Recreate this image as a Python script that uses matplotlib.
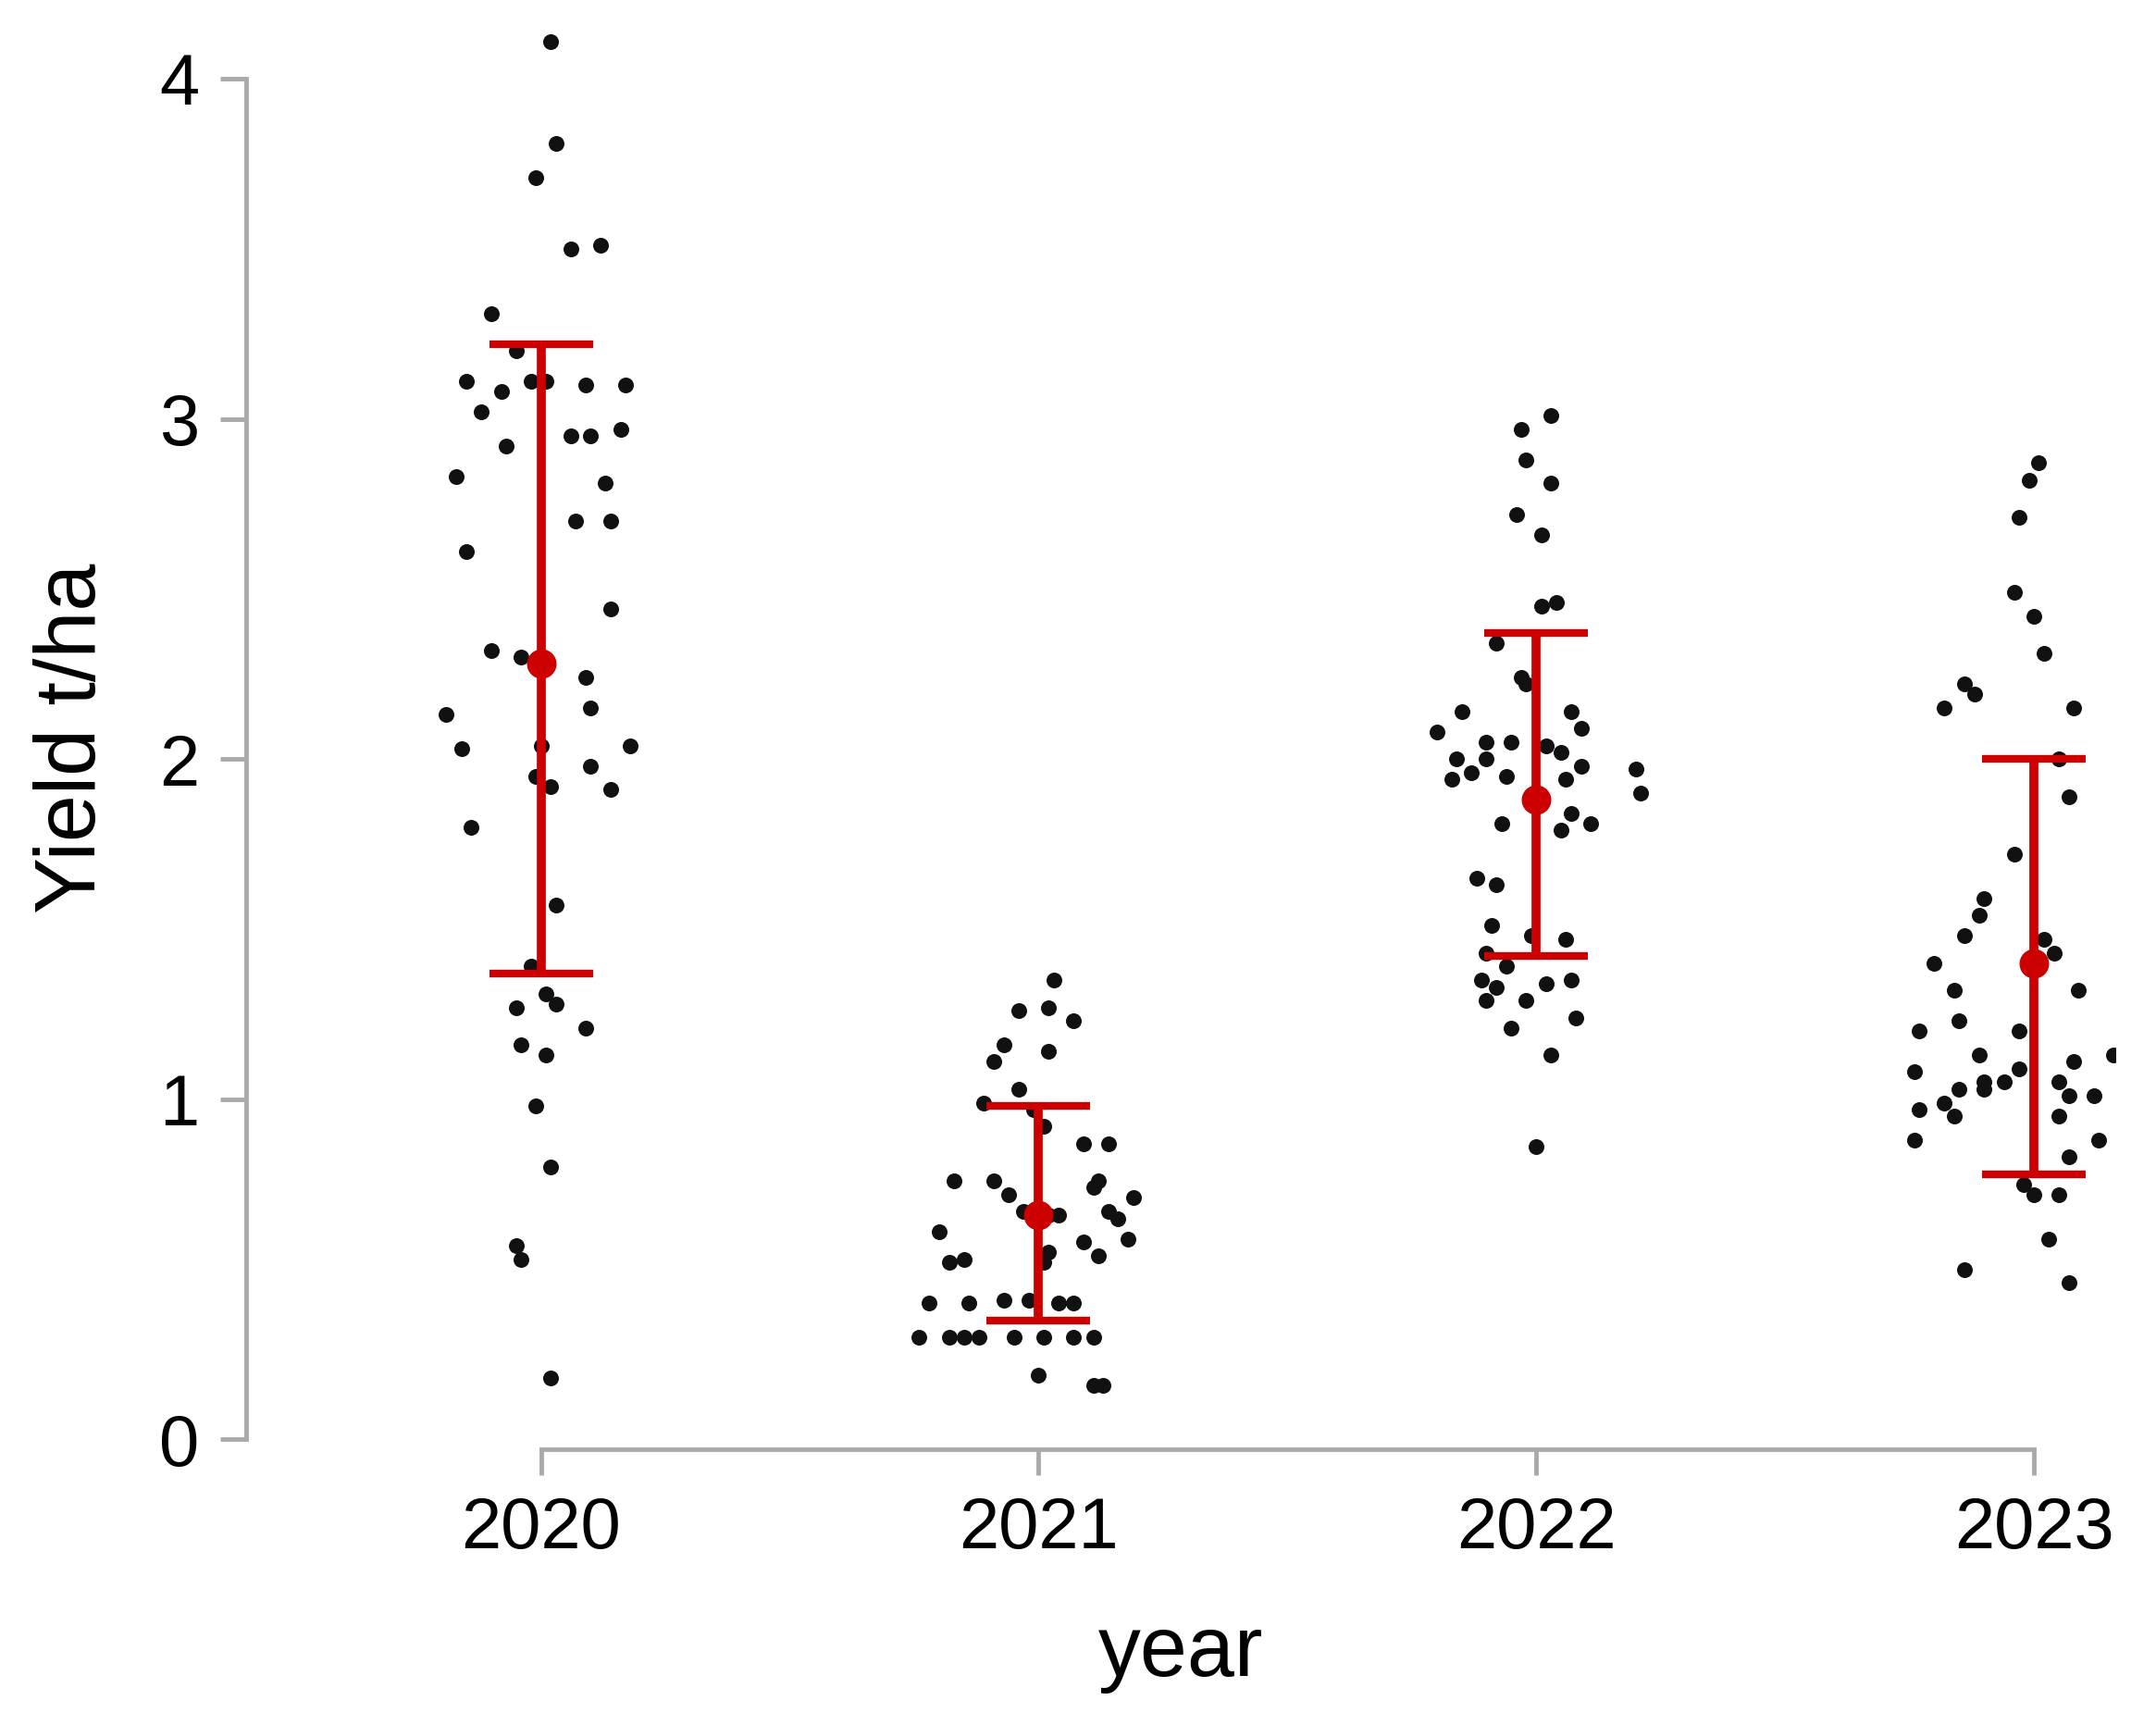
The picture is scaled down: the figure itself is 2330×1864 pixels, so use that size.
import matplotlib
matplotlib.use("Agg")
import matplotlib.pyplot as plt
import numpy as np

plt.rcParams['font.family'] = ['Liberation Sans', 'DejaVu Sans']

years = ["2020", "2021", "2022", "2023"]

y2020 = [4.11,3.81,3.71,3.50,3.51,3.31,3.20,3.11,3.08,3.11,3.11,3.10,3.10,3.02,2.92,2.95,2.95,2.97,2.83,2.81,2.70,2.70,2.61,2.44,2.32,2.30,2.24,2.13,2.15,2.03,2.04,2.04,1.95,1.92,1.98,1.91,1.80,1.57,1.39,1.27,1.31,1.28,1.21,1.16,1.13,0.98,0.80,0.57,0.53,0.18]
j2020 = [0.02,0.03,-0.01,0.06,0.12,-0.10,-0.05,-0.15,-0.08,-0.02,0.01,0.09,0.17,-0.12,-0.07,0.06,0.10,0.16,-0.17,0.13,0.07,0.14,-0.15,0.14,-0.10,-0.04,0.09,-0.19,0.10,-0.16,0.0,0.18,-0.01,0.02,0.10,0.14,-0.14,0.03,-0.02,-0.05,0.01,0.03,0.09,-0.04,0.01,-0.01,0.02,-0.05,-0.04,0.02]

y2021 = [1.35,1.26,1.27,1.16,1.23,1.11,1.14,0.99,1.03,0.97,0.92,0.87,0.87,0.76,0.76,0.72,0.76,0.74,0.71,0.66,0.67,0.67,0.65,0.66,0.61,0.59,0.58,0.55,0.52,0.53,0.54,0.52,0.41,0.40,0.40,0.41,0.40,0.40,0.30,0.30,0.30,0.30,0.30,0.30,0.30,0.30,0.19,0.16,0.16]
j2021 = [0.03,-0.04,0.02,-0.07,0.07,-0.09,0.02,-0.11,-0.04,-0.01,0.01,0.09,0.14,-0.17,-0.09,-0.06,0.12,0.11,0.19,0.02,-0.03,0.14,0.16,0.04,-0.20,0.18,0.09,0.02,-0.18,-0.15,0.12,0.01,-0.07,-0.22,-0.14,-0.02,0.04,0.07,-0.18,-0.15,-0.12,-0.05,0.01,0.07,0.11,-0.24,0.0,0.11,0.13]

y2022 = [3.01,2.97,2.88,2.81,2.72,2.66,2.46,2.45,2.34,2.24,2.22,2.14,2.14,2.08,2.09,2.05,2.05,2.04,2.00,2.00,2.02,1.98,1.97,1.94,1.96,1.95,1.94,1.90,1.84,1.81,1.81,1.79,1.65,1.63,1.51,1.48,1.43,1.47,1.39,1.35,1.33,1.35,1.34,1.29,1.29,1.24,1.21,1.13,0.86]
j2022 = [0.03,-0.03,-0.02,0.03,-0.04,0.01,0.04,0.01,-0.08,-0.03,-0.02,-0.15,0.07,-0.20,0.09,-0.10,-0.05,0.02,-0.16,-0.10,0.05,0.09,0.20,-0.17,-0.13,-0.06,0.06,0.21,0.07,0.11,-0.07,0.05,-0.12,-0.08,-0.09,-0.01,-0.10,0.06,-0.06,-0.11,-0.08,0.07,0.02,-0.10,-0.02,0.08,-0.05,0.03,0.0]

y2023 = [2.87,2.82,2.71,2.49,2.42,2.31,2.22,2.19,2.15,2.15,2.00,1.89,1.72,1.59,1.54,1.48,1.47,1.43,1.40,1.32,1.32,1.20,1.23,1.20,1.13,1.13,1.11,1.08,1.09,1.05,1.05,0.99,1.05,1.01,1.01,0.97,0.95,1.03,1.03,0.95,0.88,0.88,0.83,0.75,0.72,0.72,0.59,0.50,0.46]
j2023 = [0.01,-0.01,-0.03,-0.04,0.0,0.02,-0.14,-0.12,0.08,-0.18,0.05,0.07,-0.04,-0.10,-0.11,-0.14,0.02,0.04,-0.20,-0.16,0.09,-0.23,-0.15,-0.03,-0.11,0.16,0.08,-0.24,-0.03,-0.06,0.05,-0.18,-0.10,0.07,0.12,-0.23,-0.16,-0.10,-0.15,0.05,-0.24,0.13,0.07,-0.02,0.0,0.05,0.03,-0.14,0.07]

means = [2.28, 0.66, 1.88, 1.40]
lower = [1.37, 0.35, 1.42, 0.78]
upper = [3.22, 0.98, 2.37, 2.00]

fig = plt.figure(figsize=(23.3, 18.64), dpi=100)
ax = fig.add_axes([0.114, 0.16, 0.867, 0.824])

groups = [(y2020, j2020), (y2021, j2021), (y2022, j2022), (y2023, j2023)]
for i, (ys, js) in enumerate(groups):
    ax.scatter(np.array(js) + i, ys, s=150, color='#111111', zorder=2, linewidths=0)

xs = np.arange(len(years))
m = np.array(means)
ax.errorbar(xs, m, yerr=[m - np.array(lower), np.array(upper) - m], fmt='o',
            color='#cc0000', ecolor='#cc0000', elinewidth=7, capsize=40,
            capthick=6, markersize=22, zorder=3)

ax.set_xlim(-0.593, 3.163)
ax.set_ylim(-0.028, 4.15)
ax.set_xticks(xs)
ax.set_xticklabels(years)
ax.set_yticks([0, 1, 2, 3, 4])
for s in ['top', 'right']:
    ax.spines[s].set_visible(False)
for s in ['left', 'bottom']:
    ax.spines[s].set_color('#aaaaaa')
    ax.spines[s].set_linewidth(3.5)
ax.spines['left'].set_bounds(0, 4)
ax.spines['bottom'].set_bounds(0, 3)
ax.tick_params(axis='both', colors='#aaaaaa', width=3.5, length=20, labelsize=56,
               labelcolor='black', pad=16)
ax.set_xlabel('year', fontsize=66, labelpad=40)
ax.set_ylabel('Yield t/ha', fontsize=66, labelpad=36)

fig.savefig('out.png', dpi=100)
